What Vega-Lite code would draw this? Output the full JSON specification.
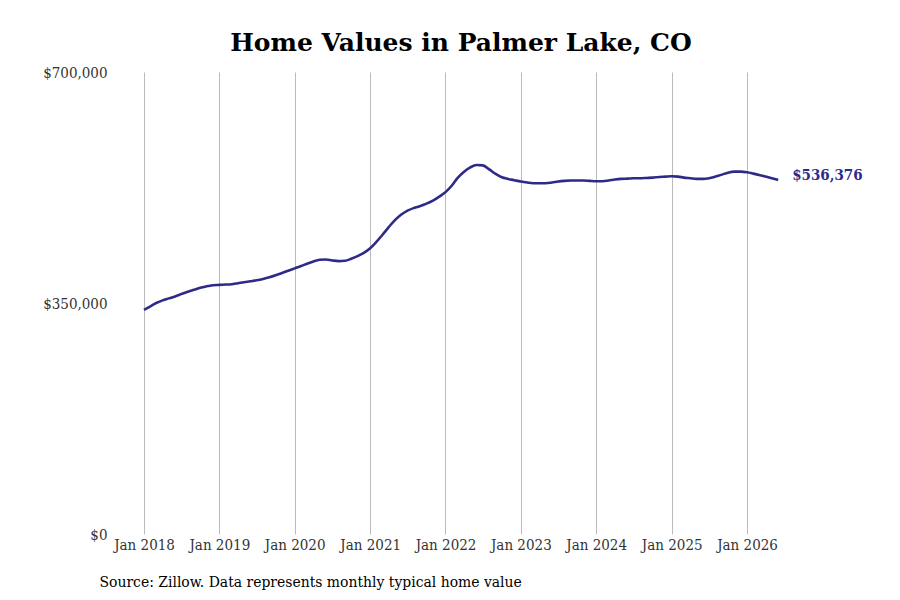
{
  "$schema": "https://vega.github.io/schema/vega-lite/v6.json",
  "width": 682,
  "height": 462,
  "autosize": {"type": "none"},
  "padding": {"left": 120, "top": 72, "right": 98, "bottom": 66},
  "background": "white",
  "title": {
    "text": "Home Values in Palmer Lake, CO",
    "font": "DejaVu Serif",
    "fontSize": 25,
    "fontWeight": "bold",
    "color": "#000000",
    "anchor": "middle",
    "offset": 9
  },
  "config": {
    "view": {"stroke": null},
    "font": "DejaVu Serif Condensed"
  },
  "data": {
    "values": [
      {"date": "2018-01-01", "value": 339500},
      {"date": "2018-02-01", "value": 345000},
      {"date": "2018-03-01", "value": 350000},
      {"date": "2018-04-01", "value": 354000},
      {"date": "2018-05-01", "value": 357000},
      {"date": "2018-06-01", "value": 360000},
      {"date": "2018-07-01", "value": 363500},
      {"date": "2018-08-01", "value": 367000},
      {"date": "2018-09-01", "value": 370000},
      {"date": "2018-10-01", "value": 373000},
      {"date": "2018-11-01", "value": 375500},
      {"date": "2018-12-01", "value": 377000},
      {"date": "2019-01-01", "value": 377500},
      {"date": "2019-02-01", "value": 378000},
      {"date": "2019-03-01", "value": 378500},
      {"date": "2019-04-01", "value": 380000},
      {"date": "2019-05-01", "value": 381500},
      {"date": "2019-06-01", "value": 383000},
      {"date": "2019-07-01", "value": 384500},
      {"date": "2019-08-01", "value": 386500},
      {"date": "2019-09-01", "value": 389000},
      {"date": "2019-10-01", "value": 392000},
      {"date": "2019-11-01", "value": 395500},
      {"date": "2019-12-01", "value": 399000},
      {"date": "2020-01-01", "value": 402500},
      {"date": "2020-02-01", "value": 406000},
      {"date": "2020-03-01", "value": 409500},
      {"date": "2020-04-01", "value": 413000},
      {"date": "2020-05-01", "value": 415500},
      {"date": "2020-06-01", "value": 416000},
      {"date": "2020-07-01", "value": 414500},
      {"date": "2020-08-01", "value": 413500},
      {"date": "2020-09-01", "value": 414000},
      {"date": "2020-10-01", "value": 417000},
      {"date": "2020-11-01", "value": 421000},
      {"date": "2020-12-01", "value": 426000},
      {"date": "2021-01-01", "value": 433000},
      {"date": "2021-02-01", "value": 443000},
      {"date": "2021-03-01", "value": 453000},
      {"date": "2021-04-01", "value": 465000},
      {"date": "2021-05-01", "value": 475500},
      {"date": "2021-06-01", "value": 484000},
      {"date": "2021-07-01", "value": 490000},
      {"date": "2021-08-01", "value": 494000},
      {"date": "2021-09-01", "value": 497000},
      {"date": "2021-10-01", "value": 500500},
      {"date": "2021-11-01", "value": 505000},
      {"date": "2021-12-01", "value": 511000},
      {"date": "2022-01-01", "value": 518000},
      {"date": "2022-02-01", "value": 528000},
      {"date": "2022-03-01", "value": 539500},
      {"date": "2022-04-01", "value": 549000},
      {"date": "2022-05-01", "value": 555500},
      {"date": "2022-06-01", "value": 559000},
      {"date": "2022-07-01", "value": 558500},
      {"date": "2022-08-01", "value": 552500},
      {"date": "2022-09-01", "value": 545500},
      {"date": "2022-10-01", "value": 540500},
      {"date": "2022-11-01", "value": 538000},
      {"date": "2022-12-01", "value": 536000},
      {"date": "2023-01-01", "value": 534000},
      {"date": "2023-02-01", "value": 532500},
      {"date": "2023-03-01", "value": 531500},
      {"date": "2023-04-01", "value": 531500},
      {"date": "2023-05-01", "value": 531500},
      {"date": "2023-06-01", "value": 532500},
      {"date": "2023-07-01", "value": 534000},
      {"date": "2023-08-01", "value": 535000},
      {"date": "2023-09-01", "value": 535500},
      {"date": "2023-10-01", "value": 535500},
      {"date": "2023-11-01", "value": 535500},
      {"date": "2023-12-01", "value": 535000},
      {"date": "2024-01-01", "value": 534500},
      {"date": "2024-02-01", "value": 534500},
      {"date": "2024-03-01", "value": 535500},
      {"date": "2024-04-01", "value": 537000},
      {"date": "2024-05-01", "value": 538000},
      {"date": "2024-06-01", "value": 538500},
      {"date": "2024-07-01", "value": 539000},
      {"date": "2024-08-01", "value": 539000},
      {"date": "2024-09-01", "value": 539500},
      {"date": "2024-10-01", "value": 540000},
      {"date": "2024-11-01", "value": 541000},
      {"date": "2024-12-01", "value": 541500},
      {"date": "2025-01-01", "value": 542000},
      {"date": "2025-02-01", "value": 541500},
      {"date": "2025-03-01", "value": 540000},
      {"date": "2025-04-01", "value": 539000},
      {"date": "2025-05-01", "value": 538000},
      {"date": "2025-06-01", "value": 538000},
      {"date": "2025-07-01", "value": 539000},
      {"date": "2025-08-01", "value": 541500},
      {"date": "2025-09-01", "value": 544500},
      {"date": "2025-10-01", "value": 547500},
      {"date": "2025-11-01", "value": 549000},
      {"date": "2025-12-01", "value": 549000},
      {"date": "2026-01-01", "value": 548000},
      {"date": "2026-02-01", "value": 546000},
      {"date": "2026-03-01", "value": 544000},
      {"date": "2026-04-01", "value": 541500},
      {"date": "2026-05-01", "value": 539000},
      {"date": "2026-06-01", "value": 536376}
    ]
  },
  "encoding": {
    "x": {
      "field": "date",
      "type": "temporal",
      "scale": {"type": "utc", "domain": [1504716608952, 1790252704566]},
      "axis": {
        "format": "%b %Y",
        "values": [
          {"year": 2018, "month": 1, "date": 1, "utc": true},
          {"year": 2019, "month": 1, "date": 1, "utc": true},
          {"year": 2020, "month": 1, "date": 1, "utc": true},
          {"year": 2021, "month": 1, "date": 1, "utc": true},
          {"year": 2022, "month": 1, "date": 1, "utc": true},
          {"year": 2023, "month": 1, "date": 1, "utc": true},
          {"year": 2024, "month": 1, "date": 1, "utc": true},
          {"year": 2025, "month": 1, "date": 1, "utc": true},
          {"year": 2026, "month": 1, "date": 1, "utc": true}
        ],
        "grid": true,
        "gridColor": "#bbbbbb",
        "gridWidth": 1,
        "ticks": false,
        "domain": false,
        "labelFont": "DejaVu Serif Condensed",
        "labelFontSize": 15,
        "labelColor": "#333333",
        "labelPadding": 3,
        "labelFlush": false,
        "title": "Source: Zillow. Data represents monthly typical home value",
        "titleFont": "DejaVu Serif Condensed",
        "titleFontSize": 15.5,
        "titleFontWeight": "normal",
        "titleColor": "#000000",
        "titleAnchor": "start",
        "titleAlign": "left",
        "titleX": -21,
        "titlePadding": 22
      }
    },
    "y": {
      "field": "value",
      "type": "quantitative",
      "scale": {"domain": [0, 700000]},
      "axis": {
        "values": [0, 350000, 700000],
        "format": "$,.0f",
        "grid": false,
        "ticks": false,
        "domain": false,
        "labelFont": "DejaVu Serif Condensed",
        "labelFontSize": 15,
        "labelColor": "#333333",
        "labelPadding": 13,
        "title": null
      }
    }
  },
  "layer": [
    {
      "mark": {"type": "line", "color": "#2e2b88", "strokeWidth": 2.6, "interpolate": "monotone"}
    },
    {
      "transform": [{"filter": "time(datum.date) === utc(2026, 5, 1)"}],
      "mark": {
        "type": "text",
        "align": "left",
        "baseline": "middle",
        "dx": 14,
        "dy": -5,
        "font": "DejaVu Serif Condensed",
        "fontSize": 15,
        "fontWeight": "bold",
        "color": "#2e2b88"
      },
      "encoding": {
        "text": {"field": "value", "type": "quantitative", "format": "$,.0f"}
      }
    }
  ]
}
